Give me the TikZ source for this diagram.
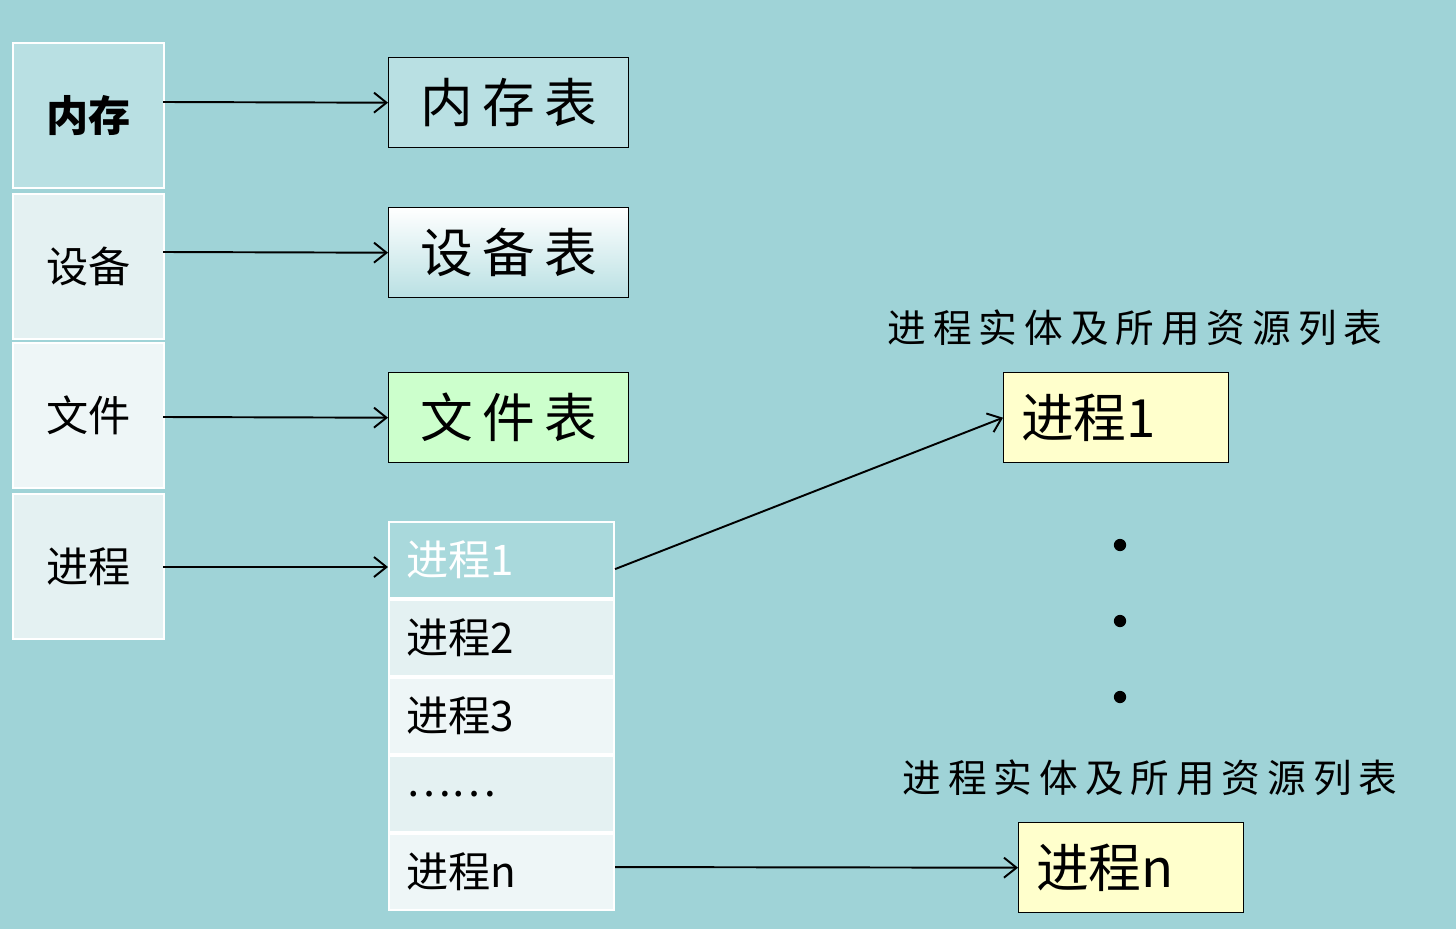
\documentclass[tikz,border=0pt]{standalone}
\usepackage{fontspec}
\newfontfamily\cjk{Noto Sans CJK SC}
\newfontfamily\cjkwide[LetterSpace=18]{Noto Sans CJK SC}
\usetikzlibrary{positioning,arrows.meta}
\definecolor{bgcol}{HTML}{9FD3D7}
\definecolor{cellA}{HTML}{B9E0E3}
\definecolor{cellB}{HTML}{E4F1F2}
\definecolor{cellC}{HTML}{EEF6F7}
\definecolor{headcol}{HTML}{A9D9DC}
\definecolor{greencol}{HTML}{CCFFCC}
\definecolor{yelcol}{HTML}{FFFFCC}
\begin{document}
\begin{tikzpicture}[x=0.02cm,y=-0.02cm,
    cat/.style={rectangle,draw=white,line width=1.2pt,minimum width=3.02cm,minimum height=2.9cm,font=\cjk\fontsize{24}{26}\selectfont},
    tbl/.style={rectangle,draw=black,thick,minimum width=4.8cm,minimum height=1.8cm,font=\cjkwide\fontsize{30}{32}\selectfont},
    row/.style={rectangle,draw=white,line width=1.2pt,minimum width=4.5cm,minimum height=1.52cm,anchor=north west,text width=3.8cm,font=\cjk\fontsize{24}{26}\selectfont},
    ent/.style={rectangle,draw=black,thick,minimum width=4.5cm,minimum height=1.8cm,anchor=north west,text width=3.8cm,font=\cjk\fontsize{30}{32}\selectfont},
    caption/.style={font=\cjkwide\fontsize{22}{24}\selectfont},
    link/.style={-{Straight Barb[length=2.5mm,width=4mm]},line width=1.1pt},
   ]
    \fill[bgcol] (0,0) rectangle (1456,929);

    \node (mem)  [cat,fill=cellA,anchor=north west] at (12,42)  {\textbf{内存}};
    \node (dev)  [cat,fill=cellB,anchor=north west] at (12,193) {设备};
    \node (file) [cat,fill=cellC,anchor=north west] at (12,342) {文件};
    \node (proc) [cat,fill=cellB,anchor=north west] at (12,493) {进程};

    \node (memtab)  [tbl,fill=cellA,anchor=north west] at (388,57)  {内存表};
    \node (devtab)  [tbl,top color=white,bottom color=cellA,anchor=north west] at (388,207) {设备表};
    \node (filetab) [tbl,fill=greencol,anchor=north west] at (388,372) {文件表};

    \node (p1) [row,fill=headcol,text=white] at (388,521) {进程1};
    \node (p2) [row,fill=cellB] at (388,599) {进程2};
    \node (p3) [row,fill=cellC] at (388,677) {进程3};
    \node (pd) [row,fill=cellB] at (388,755) {……};
    \node (pn) [row,fill=cellC] at (388,833) {进程n};

    \node (cap1) [caption] at (1135,328) {进程实体及所用资源列表};
    \node (e1)   [ent,fill=yelcol] at (1003,372) {进程1};
    \node (cap2) [caption] at (1150,778) {进程实体及所用资源列表};
    \node (en)   [ent,fill=yelcol] at (1018,822) {进程n};

    \foreach \y in {545,621,697} \fill (1120,\y) circle (3.5pt);

    \draw[link] (163,102) -- (memtab.west);
    \draw[link] (163,252) -- (devtab.west);
    \draw[link] (163,417) -- (filetab.west);
    \draw[link] (163,567) -- (388,567);
    \draw[link] (p1.south east) ++(0,-30) -- (e1.west);
    \draw[link] (pn.east) ++(0,-5) -- (en.west);
\end{tikzpicture}
\end{document}
